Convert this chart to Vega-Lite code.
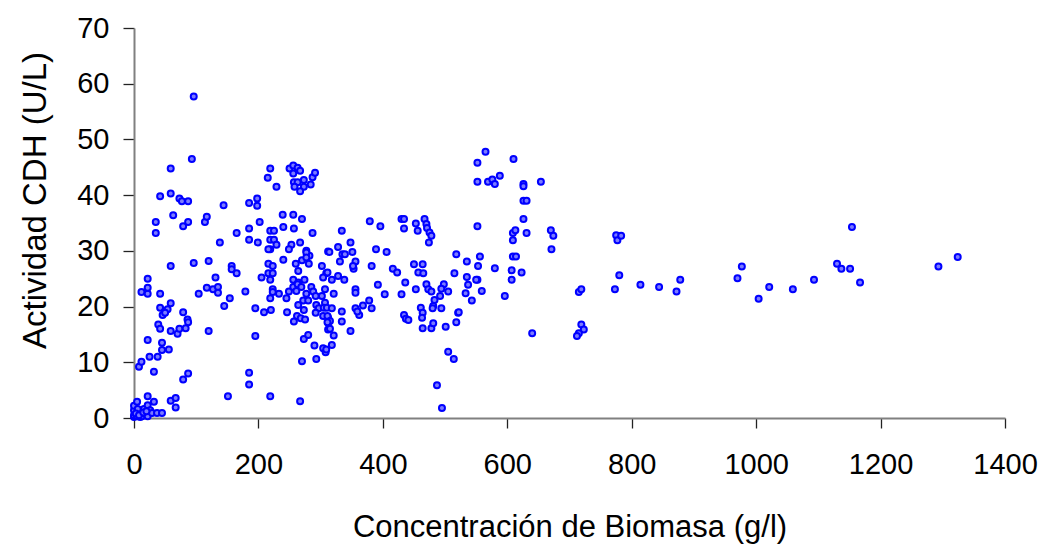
{
  "$schema": "https://vega.github.io/schema/vega-lite/v6.json",
  "width": 871,
  "height": 390,
  "autosize": "none",
  "padding": {"left": 134, "top": 28, "right": 38, "bottom": 127},
  "background": "white",
  "config": {
    "view": {"stroke": null},
    "font": "Liberation Sans",
    "axis": {
      "grid": false,
      "domainColor": "#808080",
      "domainWidth": 2,
      "tickColor": "#222222",
      "tickWidth": 1.3,
      "tickSize": 11,
      "labelFont": "Liberation Sans",
      "labelFontSize": 29,
      "labelColor": "#000000",
      "titleFont": "Liberation Sans",
      "titleFontWeight": "normal",
      "titleColor": "#000000",
      "labelFlush": false,
      "labelOverlap": false
    }
  },
  "data": {
    "values": [
      {"x":0,"y":0.2},{"x":0,"y":0.5},{"x":2,"y":0.9},{"x":0,"y":1.4},{"x":0,"y":2.2},{"x":5,"y":0.3},{"x":6,"y":1.6},{"x":5,"y":2.9},{"x":10,"y":0.2},{"x":13,"y":0.3},{"x":16,"y":1.6},{"x":18,"y":0.7},{"x":22,"y":0.3},{"x":22,"y":2.3},{"x":22,"y":3.9},{"x":26,"y":1.4},{"x":29,"y":0.9},{"x":32,"y":2.9},{"x":37,"y":0.9},{"x":45,"y":0.9},{"x":3,"y":0.8},{"x":8,"y":0.5},{"x":15,"y":1.0},{"x":20,"y":1.2},
      {"x":59,"y":3.1},{"x":67,"y":3.6},{"x":67,"y":1.9},{"x":8,"y":9.2},{"x":12,"y":10.1},{"x":25,"y":11},{"x":32,"y":8.3},{"x":38,"y":11},{"x":45,"y":12.2},{"x":56,"y":12.3},{"x":45,"y":13.5},{"x":22,"y":14},{"x":79,"y":6.9},{"x":87,"y":8.0},
      {"x":39,"y":16.8},{"x":42,"y":16},{"x":59,"y":15.6},{"x":70,"y":15.1},{"x":73,"y":16},{"x":83,"y":16.1},{"x":86,"y":17.7},{"x":87,"y":17.2},{"x":79,"y":19},{"x":42,"y":19.8},{"x":50,"y":19.2},{"x":54,"y":19.5},{"x":46,"y":18.5},{"x":50,"y":18.9},{"x":59,"y":20.6},{"x":12,"y":22.6},{"x":22,"y":22.3},{"x":22,"y":23.4},{"x":22,"y":25},{"x":42,"y":22.3},{"x":104,"y":22.3},{"x":117,"y":23.4},{"x":59,"y":27.3},{"x":96,"y":27.8},{"x":120,"y":28.2},{"x":120,"y":15.6},
      {"x":35,"y":35.2},{"x":35,"y":33.2},{"x":79,"y":34.4},{"x":87,"y":35.2},{"x":114,"y":35.2},{"x":117,"y":36.1},{"x":63,"y":36.4},{"x":42,"y":39.8},{"x":59,"y":40.3},{"x":73,"y":39.4},{"x":77,"y":38.9},{"x":87,"y":38.9},{"x":59,"y":44.8},{"x":93,"y":46.5},{"x":96,"y":57.7},{"x":144,"y":38.2},{"x":138,"y":31.5},{"x":185,"y":38.6},{"x":198,"y":39.4},{"x":198,"y":38.1},{"x":202,"y":35.2},{"x":165,"y":33.2},{"x":185,"y":34},{"x":185,"y":32},{"x":199,"y":31.5},
      {"x":131,"y":25.2},{"x":127,"y":23.1},{"x":135,"y":23.5},{"x":135,"y":22.5},{"x":154,"y":21.5},{"x":145,"y":20.1},{"x":179,"y":22.7},{"x":157,"y":27.3},{"x":157,"y":26.7},{"x":165,"y":26},{"x":195,"y":19.7},{"x":195,"y":14.7},{"x":185,"y":8.1},{"x":185,"y":6},{"x":151,"y":3.9},{"x":219,"y":3.9},{"x":267,"y":3},
      {"x":219,"y":44.8},{"x":215,"y":43.1},{"x":229,"y":41.5},{"x":250,"y":44.8},{"x":256,"y":45.3},{"x":263,"y":44.9},{"x":267,"y":44.4},{"x":256,"y":43.9},{"x":257,"y":42.3},{"x":263,"y":42.3},{"x":258,"y":41.5},{"x":273,"y":42.7},{"x":273,"y":41.5},{"x":267,"y":40.7},{"x":284,"y":41.9},{"x":287,"y":43.2},{"x":291,"y":44},
      {"x":239,"y":36.5},{"x":256,"y":36.5},{"x":270,"y":35.7},{"x":240,"y":34.3},{"x":257,"y":34},{"x":219,"y":33.6},{"x":225,"y":33.6},{"x":287,"y":33.2},{"x":219,"y":32},{"x":225,"y":32},{"x":229,"y":31.1},{"x":219,"y":30.3},{"x":216,"y":30.3},{"x":253,"y":31.1},{"x":249,"y":30.3},{"x":267,"y":31.5},{"x":277,"y":30},{"x":282,"y":29.1},{"x":312,"y":29.9},{"x":240,"y":28.4},{"x":270,"y":28.3},
      {"x":216,"y":27.7},{"x":223,"y":27.3},{"x":260,"y":27.7},{"x":281,"y":27.7},{"x":277,"y":29.7},{"x":277,"y":28.8},{"x":264,"y":26.4},{"x":216,"y":26},{"x":223,"y":26},{"x":205,"y":25.2},{"x":219,"y":24.8},{"x":302,"y":27.3},{"x":309,"y":26},{"x":304,"y":25.2},{"x":256,"y":24.8},{"x":264,"y":24.3},{"x":274,"y":24.8},{"x":223,"y":23.1},{"x":223,"y":22.6},{"x":233,"y":22.3},{"x":219,"y":21.5},{"x":249,"y":22.7},{"x":256,"y":23.5},{"x":261,"y":22.8},{"x":263,"y":24},{"x":245,"y":21.5},{"x":269,"y":23.5},{"x":277,"y":22.3},{"x":285,"y":23.5},{"x":288,"y":22.7},{"x":272,"y":21.1},{"x":280,"y":21.1},{"x":292,"y":21.9},{"x":307,"y":23.1},{"x":302,"y":21.9},{"x":307,"y":20.7},
      {"x":209,"y":19},{"x":220,"y":19.4},{"x":246,"y":19},{"x":264,"y":20.3},{"x":273,"y":19.4},{"x":262,"y":18.3},{"x":268,"y":17.9},{"x":275,"y":17.7},{"x":257,"y":17.3},{"x":293,"y":20.3},{"x":297,"y":19.7},{"x":305,"y":19.8},{"x":310,"y":19.8},{"x":292,"y":18.9},{"x":304,"y":18.3},{"x":312,"y":18},{"x":312,"y":17.1},{"x":312,"y":15.9},{"x":273,"y":14.2},{"x":280,"y":14.9},{"x":290,"y":13},{"x":304,"y":12.5},{"x":308,"y":11.8},{"x":270,"y":10.2},{"x":293,"y":10.6},
      {"x":311,"y":18.3},{"x":315,"y":17.4},{"x":311,"y":17.2},{"x":315,"y":16},{"x":321,"y":14.8},{"x":318,"y":13.1},{"x":309,"y":12.3},{"x":318,"y":19.7},{"x":318,"y":24.8},{"x":321,"y":22.3},{"x":311,"y":26.1},
      {"x":334,"y":33.6},{"x":348,"y":31.5},{"x":328,"y":30.7},{"x":335,"y":29.4},{"x":339,"y":29.4},{"x":351,"y":29.8},{"x":356,"y":28.1},{"x":314,"y":29.8},{"x":331,"y":28.1},{"x":353,"y":26.8},{"x":379,"y":35.3},{"x":396,"y":34.4},{"x":430,"y":35.7},{"x":434,"y":35.7},{"x":434,"y":34},{"x":453,"y":34.9},{"x":456,"y":33.6},{"x":467,"y":35.7},{"x":470,"y":34.8},{"x":471,"y":34.1},{"x":475,"y":33.3},{"x":478,"y":32.7},{"x":474,"y":31.5},{"x":389,"y":30.3},{"x":406,"y":29.8},{"x":382,"y":27.3},{"x":328,"y":25.5},{"x":338,"y":24.8},{"x":352,"y":27.3},
      {"x":334,"y":19.1},{"x":334,"y":17.3},{"x":348,"y":15.6},{"x":356,"y":23.1},{"x":356,"y":22.5},{"x":356,"y":19.7},{"x":362,"y":18.5},{"x":359,"y":19.1},{"x":368,"y":20.2},{"x":378,"y":21.1},{"x":382,"y":19.7},{"x":392,"y":23.9},{"x":403,"y":22.2},{"x":416,"y":26.8},{"x":423,"y":26.1},{"x":436,"y":24.3},{"x":430,"y":22.2},{"x":450,"y":27.6},{"x":464,"y":27.6},{"x":457,"y":26.1},{"x":465,"y":26},{"x":470,"y":24},{"x":473,"y":23.1},{"x":453,"y":23.1},{"x":478,"y":22.7},{"x":483,"y":21.2},{"x":492,"y":21.9},{"x":481,"y":20.1},{"x":480,"y":19.7},{"x":498,"y":24},{"x":494,"y":23.2},{"x":505,"y":22.7},{"x":461,"y":19.8},{"x":464,"y":18.9},{"x":463,"y":18},{"x":494,"y":19.7},{"x":521,"y":18.9},{"x":518,"y":17.2},{"x":434,"y":18.5},{"x":437,"y":17.8},{"x":441,"y":17.6},{"x":464,"y":16.1},{"x":478,"y":16.1},{"x":481,"y":17},{"x":501,"y":16.4},{"x":505,"y":11.9},{"x":514,"y":10.6},{"x":487,"y":5.9},{"x":495,"y":1.8},{"x":518,"y":29.4},
      {"x":535,"y":28.1},{"x":556,"y":29},{"x":553,"y":27.3},{"x":580,"y":26.9},{"x":515,"y":26},{"x":552,"y":24.8},{"x":550,"y":24.8},{"x":535,"y":25.3},{"x":537,"y":23.9},{"x":533,"y":22.4},{"x":559,"y":22.8},{"x":543,"y":21.1},{"x":522,"y":19},{"x":552,"y":34.4},{"x":552,"y":45.8},{"x":565,"y":47.8},{"x":552,"y":42.4},{"x":569,"y":42.4},{"x":576,"y":42.8},{"x":580,"y":42},{"x":588,"y":43.5},{"x":610,"y":46.5},{"x":626,"y":42},{"x":626,"y":41.6},{"x":654,"y":42.4},{"x":626,"y":39},{"x":631,"y":39},{"x":626,"y":35.7},{"x":609,"y":33.2},{"x":613,"y":33.7},{"x":609,"y":31.9},{"x":631,"y":33.2},{"x":670,"y":33.7},{"x":674,"y":32.7},{"x":671,"y":30.3},{"x":609,"y":29},{"x":614,"y":29},{"x":607,"y":26.5},{"x":607,"y":24.8},{"x":623,"y":26.1},{"x":596,"y":21.9},{"x":640,"y":15.2},{"x":715,"y":22.6},{"x":719,"y":23.1},{"x":719,"y":16.8},{"x":723,"y":15.9},{"x":715,"y":15.2},{"x":712,"y":14.7},
      {"x":775,"y":32.8},{"x":777,"y":31.9},{"x":783,"y":32.7},{"x":780,"y":25.6},{"x":773,"y":23.1},{"x":814,"y":23.9},{"x":844,"y":23.5},{"x":872,"y":22.7},{"x":878,"y":24.8},{"x":970,"y":25.1},{"x":977,"y":27.2},{"x":1004,"y":21.4},{"x":1021,"y":23.5},{"x":1059,"y":23.1},{"x":1093,"y":24.8},{"x":1130,"y":27.7},{"x":1137,"y":26.8},{"x":1151,"y":26.8},{"x":1154,"y":34.3},{"x":1167,"y":24.3},{"x":1293,"y":27.2},{"x":1324,"y":28.9}
    ]
  },
  "mark": {"type": "point", "shape": "circle", "filled": false, "fill": "#7b7bff", "fillOpacity": 1, "stroke": "#0000ff", "strokeWidth": 2, "opacity": 1, "size": 36},
  "encoding": {
    "x": {
      "field": "x", "type": "quantitative",
      "scale": {"domain": [0, 1400], "nice": false, "zero": true},
      "axis": {"values": [0,200,400,600,800,1000,1200,1400], "format": "d", "title": "Concentración de Biomasa (g/l)", "titleFontSize": 31, "labelPadding": 22, "tickSize": 10, "titleBaseline": "alphabetic", "titleY": 118}
    },
    "y": {
      "field": "y", "type": "quantitative",
      "scale": {"domain": [0, 70], "nice": false},
      "axis": {"values": [0,10,20,30,40,50,60,70], "format": "d", "title": "Actividad CDH (U/L)", "titleFontSize": 33, "labelPadding": 14, "titleX": -99, "titleY": 172, "titleBaseline": "middle", "titleAngle": -90}
    }
  }
}
